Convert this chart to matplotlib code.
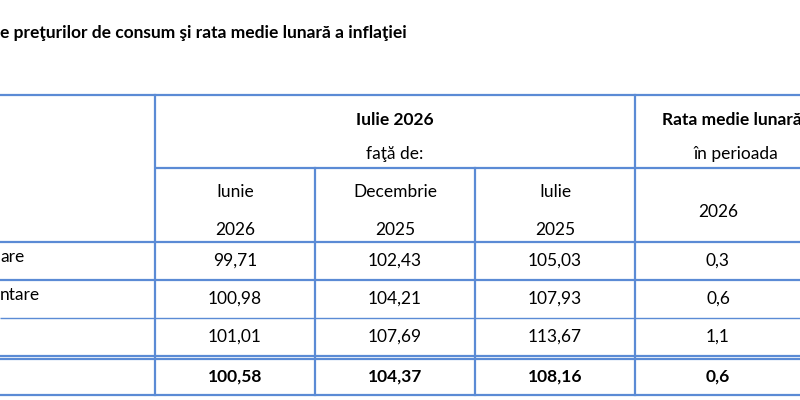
import matplotlib
matplotlib.use("Agg")
import matplotlib.pyplot as plt

plt.rcParams['font.family'] = ['Lato', 'DejaVu Sans']

title = "e preţurilor de consum şi rata medie lunară a inflaţiei"
row_labels = ["are", "ntare", "", ""]
col_headers = [("Iunie", "2026"), ("Decembrie", "2025"), ("Iulie", "2025")]
rate_header = "2026"
vs_jun26 = ["99,71", "100,98", "101,01", "100,58"]
vs_dec25 = ["102,43", "104,21", "107,69", "104,37"]
vs_jul25 = ["105,03", "107,93", "113,67", "108,16"]
rate_2026 = ["0,3", "0,6", "1,1", "0,6"]

fig = plt.figure(figsize=(8, 4), dpi=100)
ax = fig.add_axes([0, 0, 1, 1])
ax.set_xlim(0, 800)
ax.set_ylim(400, 0)
ax.axis('off')

lc = '#5B8BD5'
lw = 1.6
fs = 12.5

ax.text(0, 33, title, fontsize=12.5, fontweight='bold', va='center', ha='left')

for y, x0 in [(95, 0), (168, 155), (242, 0), (280, 0), (318, 0), (356, 0), (359, 0), (395, 0)]:
    ax.plot([x0, 800], [y, y], color=lc, lw=lw if y != 318 else 1.0, solid_capstyle='butt')
ax.plot([155, 155], [95, 395], color=lc, lw=lw)
ax.plot([635, 635], [95, 395], color=lc, lw=lw)
ax.plot([315, 315], [168, 395], color=lc, lw=lw)
ax.plot([475, 475], [168, 395], color=lc, lw=lw)

ax.text(395, 120, "Iulie 2026", fontsize=fs, fontweight='bold', ha='center', va='center')
ax.text(395, 154, "faţă de:", fontsize=fs, ha='center', va='center')
ax.text(662, 120, "Rata medie lunară", fontsize=fs, fontweight='bold', ha='left', va='center')
ax.text(694, 154, "în perioada", fontsize=fs, ha='left', va='center')
ax.text(718, 212, rate_header, fontsize=fs, ha='center', va='center')
for xc, (a, b) in zip([235, 395, 555], col_headers):
    ax.text(xc, 192, a, fontsize=fs, ha='center', va='center')
    ax.text(xc, 230, b, fontsize=fs, ha='center', va='center')

row_y = [261, 299, 337, 377]
for i, y in enumerate(row_y):
    w = 'bold' if i == 3 else 'normal'
    lab_y = y - 4 if i < 2 else y
    ax.text(0, lab_y, row_labels[i], fontsize=fs, ha='left', va='center', fontweight=w)
    for xc, col in zip([235, 395, 555, 718], [vs_jun26, vs_dec25, vs_jul25, rate_2026]):
        ax.text(xc, y, col[i], fontsize=fs, ha='center', va='center', fontweight=w)

fig.savefig("out.png", dpi=100)
